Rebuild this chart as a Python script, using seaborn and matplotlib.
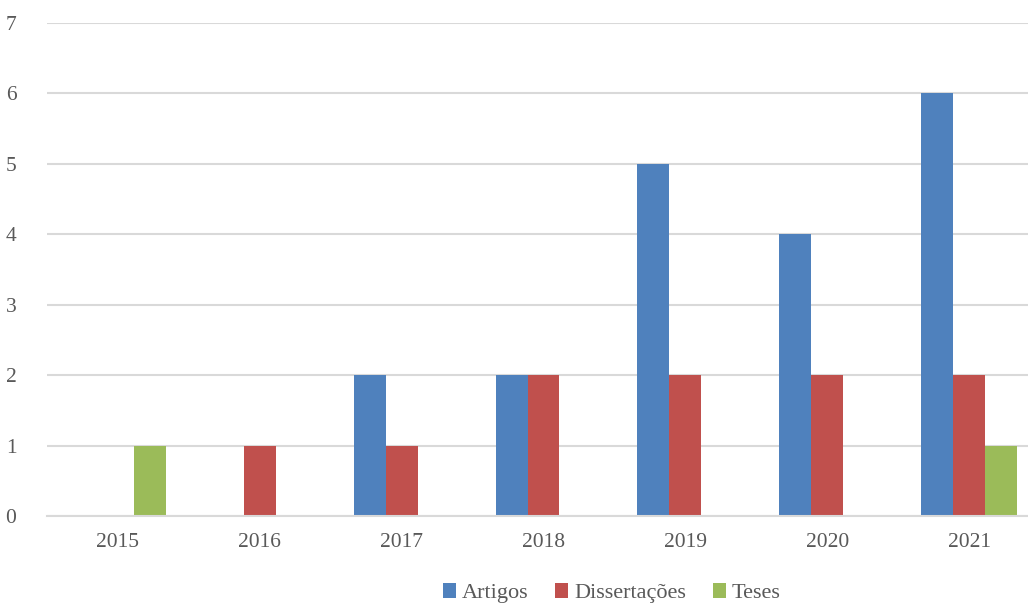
import matplotlib
matplotlib.use("Agg")
import matplotlib.pyplot as plt
import seaborn as sns
import pandas as pd

years = ["2015", "2016", "2017", "2018", "2019", "2020", "2021"]
artigos = [0, 0, 2, 2, 5, 4, 6]
dissertacoes = [0, 1, 1, 2, 2, 2, 2]
teses = [1, 0, 0, 0, 0, 0, 1]
series_names = ["Artigos", "Dissertações", "Teses"]
colors = ["#4F81BD", "#C0504D", "#9BBB59"]

rows = []
for name, vals in zip(series_names, [artigos, dissertacoes, teses]):
    for y, v in zip(years, vals):
        rows.append({"Ano": y, "Tipo": name, "Valor": v})
df = pd.DataFrame(rows)

sns.set_theme(style="white")
plt.rcParams["font.family"] = ["Liberation Serif", "DejaVu Serif"]

fig = plt.figure(figsize=(10.28, 6.05), dpi=100)
ax = fig.add_axes([0.0457, 0.147, 0.966, 0.815])

sns.barplot(data=df, x="Ano", y="Valor", hue="Tipo", palette=colors,
            width=0.675, ax=ax, saturation=1, errorbar=None, legend=True,
            linewidth=0, edgecolor="none")

ax.set_ylim(0, 7)
ax.set_xlim(-0.5, 6.5)
ax.set_yticks(range(0, 8))
ax.yaxis.grid(True, color="#D9D9D9", linewidth=1.5)
ax.set_axisbelow(True)
for s in ["top", "right", "left"]:
    ax.spines[s].set_visible(False)
ax.spines["bottom"].set_color("#D9D9D9")
ax.spines["bottom"].set_linewidth(1.5)
ax.tick_params(axis="both", length=0, labelsize=15.5, colors="#595959")
ax.tick_params(axis="x", pad=12)
ax.tick_params(axis="y", pad=22)
ax.set_xlabel("")
ax.set_ylabel("")

handles, labels = ax.get_legend_handles_labels()
ax.legend_.remove()
fig.legend(handles, labels, loc="center", bbox_to_anchor=(0.595, 0.02),
           ncol=3, frameon=False, fontsize=16, handlelength=0.6, handleheight=0.7,
           handletextpad=0.25, columnspacing=1.2, labelcolor="#595959")

fig.savefig("out.png", dpi=100)
